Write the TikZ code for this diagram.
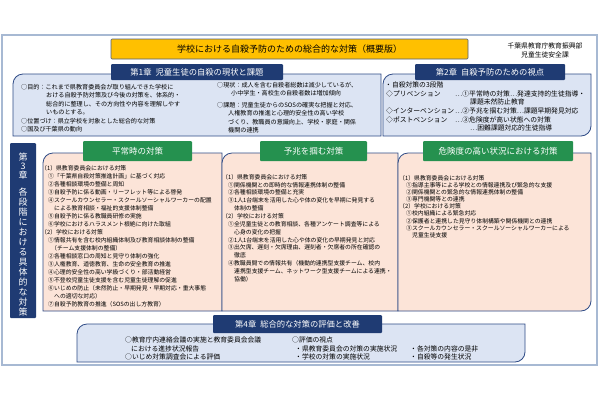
\documentclass[tikz,border=0pt]{standalone}
\usepackage{fontspec}
\setmainfont{Noto Sans CJK JP}
\definecolor{navyhd}{HTML}{1F3B73}
\definecolor{boxline}{HTML}{2F4B86}
\definecolor{lightblue}{HTML}{DCE4F3}
\definecolor{peach}{HTML}{FCE4D8}
\definecolor{greenhd}{HTML}{25914F}
\definecolor{framecol}{HTML}{A7B9D3}
\definecolor{gold}{HTML}{FFC000}
\definecolor{titleline}{HTML}{4F5F80}
\newcommand{\mkTLbox}[5]{\path[#1] (#4,#3) -- ({#2+10},#3) .. controls ({#2+4.5},#3) and (#2,{#3+4.5}) .. (#2,{#3+10}) -- (#2,#5) -- (#4,#5) -- cycle;}
\newcommand{\mkDiagbox}[5]{\path[#1] (#4,#3) -- ({#2+10},#3) .. controls ({#2+4.5},#3) and (#2,{#3+4.5}) .. (#2,{#3+10}) -- (#2,#5) -- ({#4-10},#5) .. controls ({#4-4.5},#5) and (#4,{#5-4.5}) .. (#4,{#5-10}) -- cycle;}
\tikzset{
 bluebox/.style={fill=lightblue, draw=boxline, line width=0.8pt},
 peachbox/.style={fill=peach, draw=boxline, line width=0.8pt},
 navyhdr/.style={fill=navyhd, text=white, inner sep=0pt, rounded corners=1pt, font=\fontsize{8.3}{10}\selectfont},
 greenhdr/.style={fill=greenhd, text=white, inner sep=0pt, rounded corners=1pt, font=\fontsize{8.5}{10}\selectfont},
 coltext/.style={anchor=west, inner sep=0pt, font=\fontsize{5.85}{7}\selectfont},
 ch1text/.style={anchor=west, inner sep=0pt, font=\fontsize{6.1}{7}\selectfont},
 ch2text/.style={anchor=west, inner sep=0pt, font=\fontsize{6.8}{8}\selectfont},
 ch4text/.style={anchor=west, inner sep=0pt, font=\fontsize{6.8}{8}\selectfont},
 vchar/.style={text=white, inner sep=0pt, font=\fontsize{9}{10}\selectfont},
 attr/.style={inner sep=0pt, font=\fontsize{6.8}{8}\selectfont},
}
\begin{document}
\begin{tikzpicture}[x=1pt,y=-1pt]
\useasboundingbox (0,0) rectangle (600,400);
\fill[white] (0,0) rectangle (600,400);
\draw[draw=framecol, line width=1.5pt] (2,35) rectangle (597,365);

% chapter 1 and 2 boxes
\mkTLbox{bluebox}{13}{74}{381}{136}
\mkDiagbox{bluebox}{383}{74}{591}{136}

% title
\node[fill=gold, draw=titleline, line width=0.6pt, rounded corners=1pt, minimum width=357pt, minimum height=20pt, inner sep=0pt, font=\fontsize{9}{11}\selectfont] (title) at (289.5,49) {学校における自殺予防のための総合的な対策（概要版）};
\node[attr] (org1) at (545,46) {千葉県教育庁教育振興部};
\node[attr] (org2) at (545,55) {児童生徒安全課};

% chapter headers
\node[navyhdr, minimum width=172pt, minimum height=16pt] (h1) at (197,72) {第1章\hspace{4pt}児童生徒の自殺の現状と課題};
\node[navyhdr, minimum width=150pt, minimum height=16pt] (h2) at (490,72) {第2章\hspace{4pt}自殺予防のための視点};

% chapter 1 text
\node[ch1text] (a1) at (21,87) {○目的：これまで県教育委員会が取り組んできた学校に};
\node[ch1text] (a2) at (46,95.5) {おける自殺予防対策及び今後の対策を、体系的・};
\node[ch1text] (a3) at (46,104) {総合的に整理し、その方向性や内容を理解しやす};
\node[ch1text] (a4) at (46,112.5) {いものとする。};
\node[ch1text] (a5) at (21,121) {○位置づけ：県立学校を対象とした総合的な対策};
\node[ch1text] (a6) at (21,129.5) {○国及び千葉県の動向};
\node[ch1text] (b1) at (217,85) {○現状：成人を含む自殺者総数は減少しているが、};
\node[ch1text] (b2) at (231,93.5) {小中学生・高校生の自殺者数は増加傾向};
\node[ch1text] (b3) at (217,105) {○課題：児童生徒からのSOSの確実な把握と対応、};
\node[ch1text] (b4) at (228,113.5) {人権教育の推進と心理的安全性の高い学校};
\node[ch1text] (b5) at (228,122) {づくり、教職員の意識向上、学校・家庭・関係};
\node[ch1text] (b6) at (228,130.5) {機関の連携};

% chapter 2 text
\node[ch2text] (c1) at (385,85) {・自殺対策の3段階};
\node[ch2text] (c2) at (386,93.5) {◇プリベンション};
\node[ch2text] (c3) at (455,93.5) {…①平常時の対策…発達支持的生徒指導・};
\node[ch2text] (c4) at (470,102) {課題未然防止教育};
\node[ch2text] (c5) at (386,111) {◇インターベンション};
\node[ch2text] (c6) at (455,111) {…②予兆を掴む対策…課題早期発見対応};
\node[ch2text] (c7) at (386,119.5) {◇ポストベンション};
\node[ch2text] (c8) at (455,119.5) {…③危険度が高い状態への対策};
\node[ch2text] (c9) at (470,128) {…困難課題対応的生徒指導};

% chapter 3 columns
\mkTLbox{peachbox}{43}{153}{222}{311}
\mkTLbox{peachbox}{222}{153}{398}{311}
\mkDiagbox{peachbox}{398}{153}{591}{311}
\node[greenhdr, minimum width=109pt, minimum height=20pt] (g1) at (137.5,151) {平常時の対策};
\node[greenhdr, minimum width=107pt, minimum height=20pt] (g2) at (313.5,151) {予兆を掴む対策};
\node[greenhdr, minimum width=150pt, minimum height=20pt] (g3) at (498,151) {危険度の高い状況における対策};

% chapter 3 vertical label
\node[fill=navyhd, rounded corners=1pt, minimum width=26pt, minimum height=175pt, inner sep=0pt] (ch3lab) at (23,230.5) {};
\foreach \c/\y [count=\i] in {第/157,3/166,章/175,各/192,段/202,階/212,に/222,お/232,け/242,る/252,具/262,体/272,的/282,な/292,対/302,策/312}
  \node[vchar] (v\i) at (23,\y) {\c};

% column 1 text
\foreach \x/\t [count=\i] in {
 41/（1）県教育委員会における対策,
 48/①「千葉県自殺対策推進計画」に基づく対応,
 48/②各種相談環境の整備と周知,
 48/③自殺予防に係る動画・リーフレット等による啓発,
 48/④スクールカウンセラー・スクールソーシャルワーカーの配置,
 54/による教育相談・福祉的支援体制整備,
 48/⑤自殺予防に係る教職員研修の実施,
 48/⑥学校におけるハラスメント根絶に向けた取組,
 41/（2）学校における対策,
 48/①情報共有を含む校内組織体制及び教育相談体制の整備,
 51/（チーム支援体制の整備）,
 48/②各種相談窓口の周知と見守り体制の強化,
 48/③人権教育、道徳教育、生命の安全教育の推進,
 48/④心理的安全性の高い学級づくり・部活動経営,
 48/⑤不登校児童生徒支援を含む児童生徒理解の促進,
 48/⑥いじめの防止（未然防止・早期発見・早期対応・重大事態,
 54/への適切な対応）,
 48/⑦自殺予防教育の推進（SOSの出し方教育）}
  \node[coltext] (p\i) at (\x,{168+8*(\i-1)}) {\t};

% column 2 text
\foreach \x/\t [count=\i] in {
 222/（1）県教育委員会における対策,
 228/①関係機関との即時的な情報連携体制の整備,
 228/②各種相談環境の整備と充実,
 228/③1人1台端末を活用した心や体の変化を早期に発見する,
 234/体制の整備,
 222/（2）学校における対策,
 228/①全児童生徒との教育相談、各種アンケート調査等による,
 234/心身の変化の把握,
 228/②1人1台端末を活用した心や体の変化の早期発見と対応,
 228/③出欠席、遅刻・欠席理由、遅刻者・欠席者の所在確認の,
 234/徹底,
 228/④教職員間での情報共有（機動的連携型支援チーム、校内,
 234/連携型支援チーム、ネットワーク型支援チームによる連携・,
 234/協働）}
  \node[coltext] (q\i) at (\x,{177+7.85*(\i-1)}) {\t};

% column 3 text
\foreach \x/\t [count=\i] in {
 399/（1）県教育委員会における対策,
 406/①指導主事等による学校との情報連携及び緊急的な支援,
 406/②関係機関との緊急的な情報連携体制の整備,
 406/③専門機関等との連携,
 399/（2）学校における対策,
 406/①校内組織による緊急対応,
 406/②保護者と連携した見守り体制構築や関係機関との連携,
 406/③スクールカウンセラー・スクールソーシャルワーカーによる,
 412/児童生徒支援}
  \node[coltext] (r\i) at (\x,{178+7.15*(\i-1)}) {\t};

% chapter 4
\mkDiagbox{bluebox}{77}{324}{525}{362}
\node[navyhdr, minimum width=169pt, minimum height=18pt] (h4) at (297.5,324) {第4章\hspace{4pt}総合的な対策の評価と改善};
\node[ch4text] (d1) at (125,340) {○教育庁内連絡会議の実施と教育委員会会議};
\node[ch4text] (d2) at (131,348.5) {における進捗状況報告};
\node[ch4text] (d3) at (125,357) {○いじめ対策調査会による評価};
\node[ch4text] (e1) at (292,340) {○評価の視点};
\node[ch4text] (e2) at (295,348.5) {・県教育委員会の対策の実施状況};
\node[ch4text] (e3) at (295,357) {・学校の対策の実施状況};
\node[ch4text] (f1) at (410,348.5) {・各対策の内容の是非};
\node[ch4text] (f2) at (410,357) {・自殺等の発生状況};
\end{tikzpicture}
\end{document}
